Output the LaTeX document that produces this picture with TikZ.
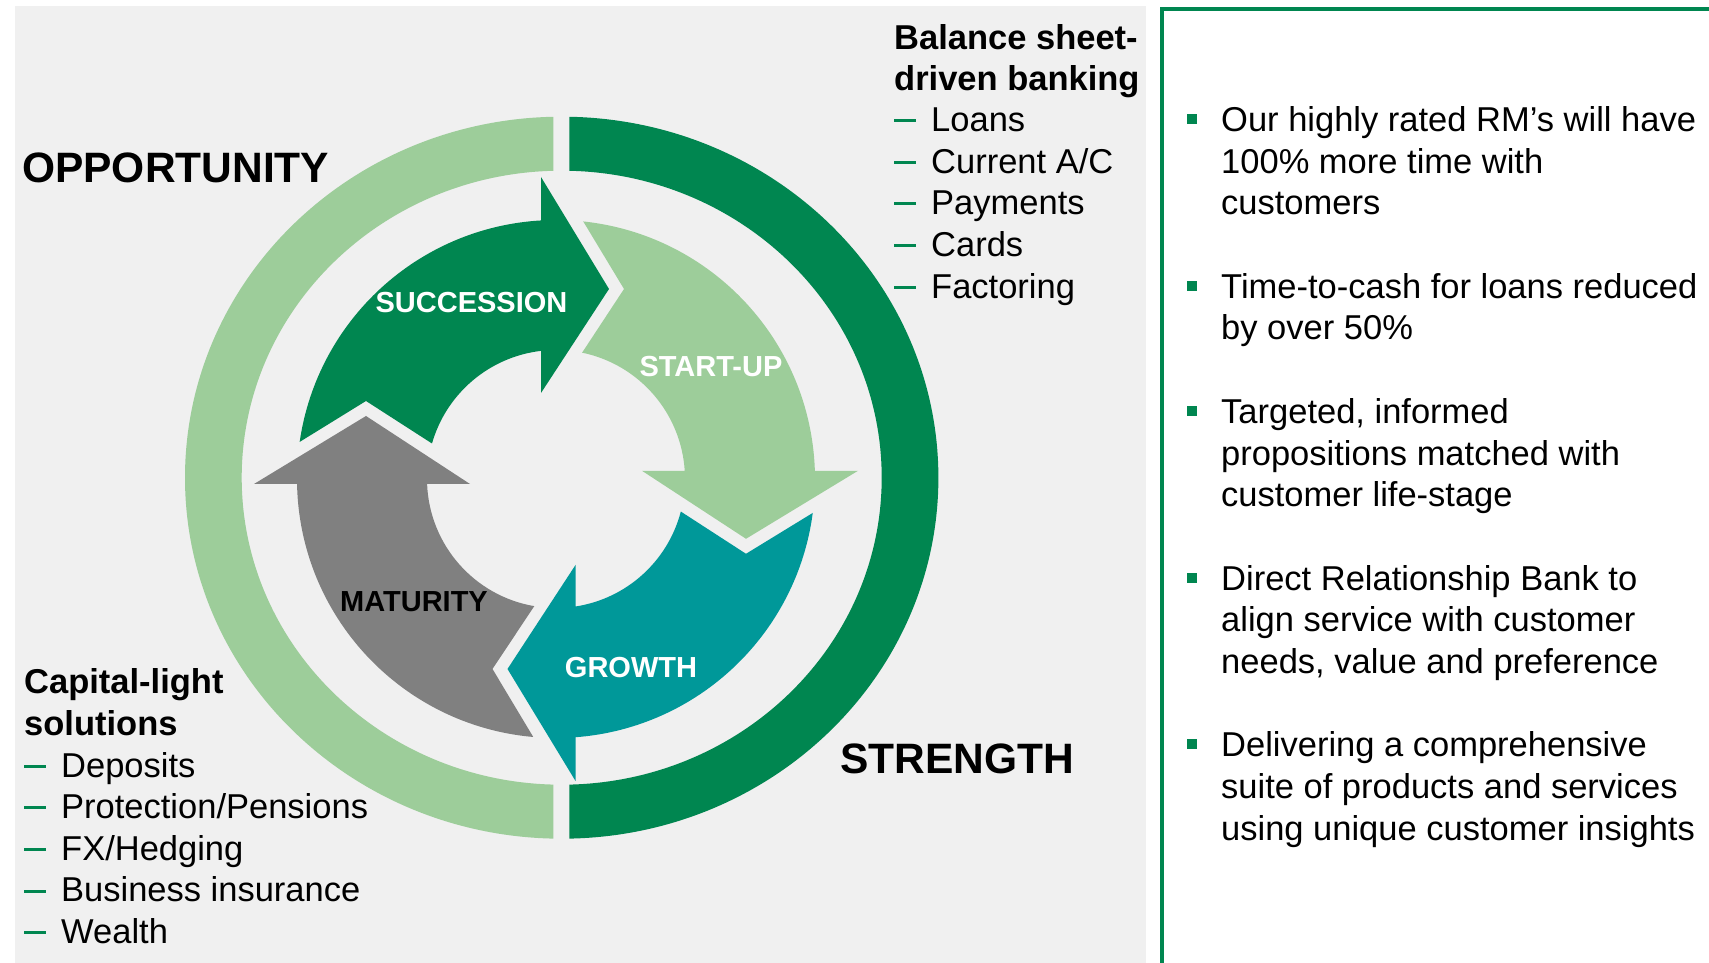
\documentclass[tikz,border=0pt]{standalone}
\usepackage{fontspec}
\setmainfont{Liberation Sans}
\definecolor{bg}{RGB}{240,240,240}
\definecolor{dkg}{RGB}{0,134,80}
\definecolor{ltg}{RGB}{157,205,154}
\definecolor{tealc}{RGB}{0,152,153}
\definecolor{gry}{RGB}{128,128,128}
\newcommand\mydash{\textcolor{dkg}{\rule[9.4pt]{22pt}{3pt}}\hspace{15pt}}
\tikzset{
  pics/cycarrow/.style n args={3}{code={
     \pgfmathsetmacro\aob{90+asin(#2/259)}
     \pgfmathsetmacro\aib{90+asin(#2/129)}
     \pgfmathsetmacro\ato{180-atan((42.2-#3)/257.2)}
     \pgfmathsetmacro\ati{180-atan((41-#3)/125.7)}
     \pgfmathsetmacro\nty{83-#3}
     \fill[#1] (\ato:259) arc[start angle=\ato,end angle=\aob,radius=259]
       -- (-#2,302) -- (68-#2,190) -- (-#2,86) -- (\aib:129)
       arc[start angle=\aib,end angle=\ati,radius=129] -- (-190,\nty) -- cycle;}},
  lbl/.style={font=\fontsize{29}{34}\selectfont\bfseries, inner sep=0pt},
  big/.style={font=\fontsize{42.5}{48}\selectfont\bfseries, inner sep=0pt, anchor=west},
  txt/.style={font=\fontsize{34.5}{41.7}\selectfont, anchor=base west, inner sep=0pt},
  bld/.style={font=\fontsize{34.5}{41.7}\selectfont\bfseries, anchor=base west, inner sep=0pt},
  bul/.style={fill=dkg, minimum size=10pt, inner sep=0pt, draw=none}
}
\begin{document}
\begin{tikzpicture}[x=1pt,y=1pt]
\useasboundingbox (0,0) rectangle (1709,963);
\fill[white] (0,0) rectangle (1709,963);
\fill[bg] (15,0) rectangle (1146,957);
% outer ring
\begin{scope}
  \clip (0,0) rectangle (553.3,963);
  \fill[ltg, even odd rule] (561.7,485.3) ellipse [x radius=376.7, y radius=361]
       (561.7,485.3) ellipse [x radius=320, y radius=307];
\end{scope}
\begin{scope}
  \clip (569.3,0) rectangle (1146,963);
  \fill[dkg, even odd rule] (561.7,485.3) ellipse [x radius=376.7, y radius=361]
       (561.7,485.3) ellipse [x radius=320, y radius=307];
\end{scope}
% cycle arrows
\pic at (556,484) {cycarrow={dkg}{15}{5}};
\pic[rotate=-90] at (556,484) {cycarrow={ltg}{8.2}{15}};
\pic[rotate=-180] at (556,484) {cycarrow={tealc}{19.5}{8.2}};
\pic[rotate=-270] at (556,484) {cycarrow={gry}{5}{19.5}};
% arrow labels
\node[lbl, text=white] (succ) at (471.5,660.6) {SUCCESSION};
\node[lbl, text=white] (startup) at (711,596.6) {START-UP};
\node[lbl, text=black] (mat) at (414,361.5) {MATURITY};
\node[lbl, text=white] (grow) at (631,295) {GROWTH};
% big labels
\node[big] (opp) at (22,795.6) {OPPORTUNITY};
\node[big] (strength) at (840,203.8) {STRENGTH};
% balance sheet block
\node[bld] (bs1) at (894,913.5) {Balance sheet-};
\node[bld] (bs2) at (894,872.4) {driven banking};
\node[txt] (bs3) at (894,831.3) {\mydash Loans};
\node[txt] (bs4) at (894,789.7) {\mydash Current A/C};
\node[txt] (bs5) at (894,748.1) {\mydash Payments};
\node[txt] (bs6) at (894,706.5) {\mydash Cards};
\node[txt] (bs7) at (894,664.9) {\mydash Factoring};
% capital-light block
\node[bld] (cl1) at (24,269) {Capital-light};
\node[bld] (cl2) at (24,227.4) {solutions};
\node[txt] (cl3) at (24,185.8) {\mydash Deposits};
\node[txt] (cl4) at (24,144.2) {\mydash Protection/Pensions};
\node[txt] (cl5) at (24,102.6) {\mydash FX/Hedging};
\node[txt] (cl6) at (24,61) {\mydash Business insurance};
\node[txt] (cl7) at (24,19.4) {\mydash Wealth};
% right panel
\draw[dkg, line width=4pt, fill=white] (1162,-10) rectangle (1730,953.5);
\node[bul] (b1) at (1191.5,844) {};
\node[bul] (b2) at (1191.5,677.2) {};
\node[bul] (b3) at (1191.5,552.1) {};
\node[bul] (b4) at (1191.5,385.3) {};
\node[bul] (b5) at (1191.5,218.5) {};
\node[txt] (r1) at (1221,831.5) {Our highly rated RM’s will have};
\node[txt] (r2) at (1221,789.8) {100\% more time with};
\node[txt] (r3) at (1221,748.1) {customers};
\node[txt] (r4) at (1221,664.7) {Time-to-cash for loans reduced};
\node[txt] (r5) at (1221,623) {by over 50\%};
\node[txt] (r6) at (1221,539.6) {Targeted, informed};
\node[txt] (r7) at (1221,497.9) {propositions matched with};
\node[txt] (r8) at (1221,456.2) {customer life-stage};
\node[txt] (r9) at (1221,372.8) {Direct Relationship Bank to};
\node[txt] (r10) at (1221,331.1) {align service with customer};
\node[txt] (r11) at (1221,289.4) {needs, value and preference};
\node[txt] (r12) at (1221,206) {Delivering a comprehensive};
\node[txt] (r13) at (1221,164.3) {suite of products and services};
\node[txt] (r14) at (1221,122.6) {using unique customer insights};
\end{tikzpicture}
\end{document}
